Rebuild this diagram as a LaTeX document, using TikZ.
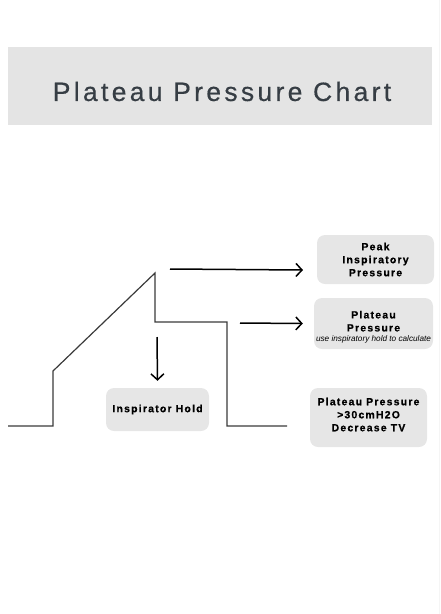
\documentclass[tikz,border=0pt]{standalone}
\usepackage{fontspec}
\setmainfont{Liberation Sans}
\newfontfamily\titlefont[LetterSpace=12.5,FakeBold=0.5]{Liberation Sans}
\newfontfamily\boxfont[LetterSpace=12,BoldFeatures={FakeBold=0.7}]{Liberation Sans}
\newfontfamily\notefont{Liberation Sans}
\usetikzlibrary{arrows.meta}
\definecolor{banner}{HTML}{E4E4E4}
\definecolor{boxgray}{HTML}{E6E6E6}
\definecolor{titleink}{HTML}{363D44}
\definecolor{chartink}{HTML}{3A3A3A}
\tikzset{
  infobox/.style = {fill=boxgray, rounded corners=8pt, align=center, inner sep=0pt,
    font=\boxfont\bfseries\fontsize{10.4}{13}\selectfont, text=black},
  chart/.style = {draw=chartink, line width=1.2pt},
  pointer/.style = {->, line width=1.5pt}
}
\tikzset{>={Straight Barb[length=6pt,width=13pt]}}
\newcommand{\holdnote}[1]{{\notefont\mdseries\itshape\fontsize{8.2}{9}\selectfont #1}}

\begin{document}
\begin{tikzpicture}[x=1pt,y=-1pt]
  \useasboundingbox (0,0) rectangle (440,614);
  \draw[gray!8] (439,0) -- (439,614);
  \node[fill=banner, minimum width=424pt, minimum height=78pt] (banner) at (220,86) {};
  \node[font=\titlefont\fontsize{26.5}{30}\selectfont, text=titleink] (title) at (222,91.5) {Plateau Pressure Chart};
  \draw[chart] (8,426) -- (53,426) -- (53,371) -- (155,273) -- (155,322) -- (227,322) -- (227,426) -- (287,426);
  \node[infobox, minimum width=117pt, minimum height=49pt] (peak) at (375.5,259.5) {Peak\\Inspiratory\\Pressure};
  \node[infobox, minimum width=119pt, minimum height=51pt] (plateau) at (373.5,323.5) {\rule{0pt}{14.5pt}Plateau\\Pressure\\[-3pt]\holdnote{use inspiratory hold to calculate}};
  \node[infobox, minimum width=103pt, minimum height=43pt] (hold) at (157.5,409.5) {Inspirator Hold};
  \node[infobox, minimum width=117pt, minimum height=59pt] (limit) at (368.5,417.5) {Plateau Pressure\\>30cmH2O\\Decrease TV\rule[-6pt]{0pt}{0pt}};
  \coordinate (peakfrom) at (170,269);
  \coordinate (peakto) at (303,270);
  \coordinate (plateaufrom) at (240,323);
  \coordinate (holdfrom) at (157,337);
  \draw[pointer] (peakfrom) -- (peakto);
  \draw[pointer] (plateaufrom) -- ([xshift=-11pt]plateau.west);
  \draw[pointer] (holdfrom) -- ([yshift=7pt]hold.north);
\end{tikzpicture}
\end{document}
